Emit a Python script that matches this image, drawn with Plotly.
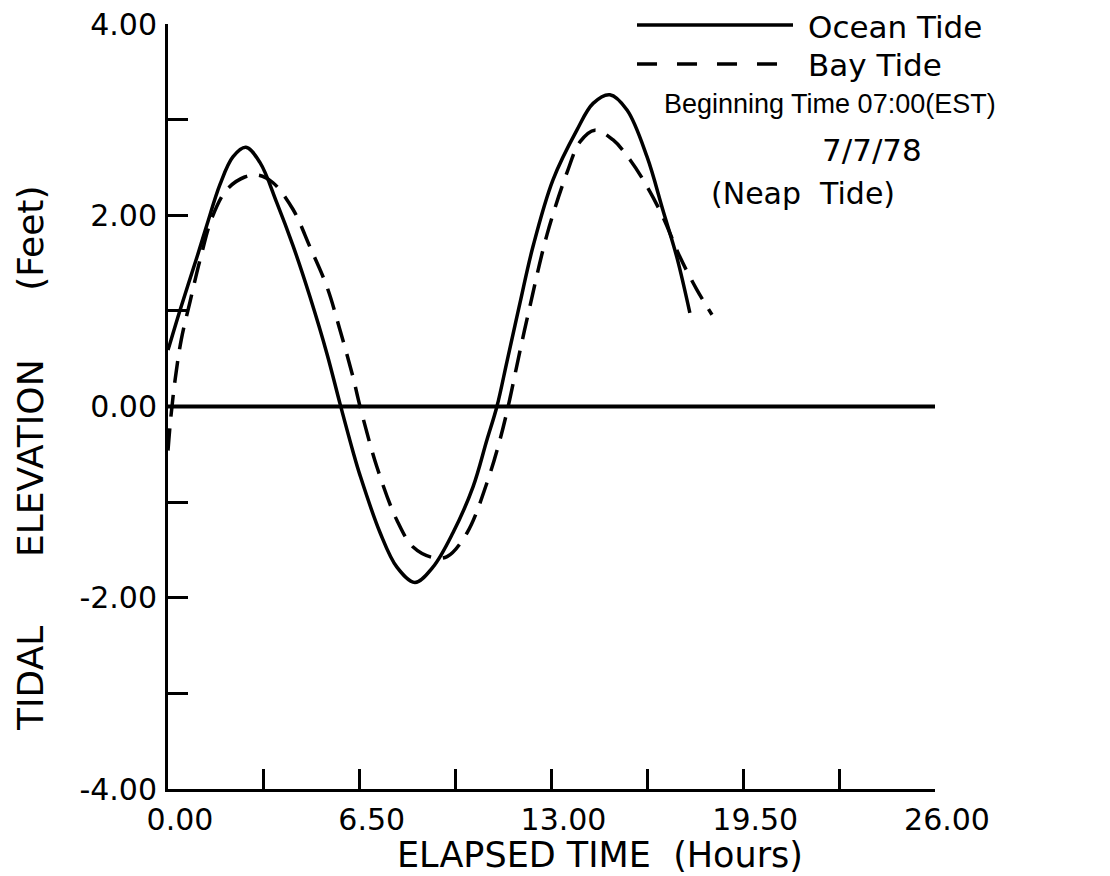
import plotly.graph_objects as go

# ---- data ----
ocean_hours = [0.0, 0.41, 0.98, 1.32, 1.76, 2.20, 2.64, 3.12, 3.69, 4.24, 4.81, 5.39, 5.83, 6.27,
               6.51, 7.19, 7.76, 8.37, 8.98, 9.66, 10.34, 10.81, 11.15, 11.49, 11.93, 12.37,
               13.05, 13.86, 14.41, 14.98, 15.56, 16.24, 16.78, 17.25, 17.69]
ocean_ft = [0.59, 1.01, 1.56, 1.90, 2.32, 2.61, 2.71, 2.55, 2.13, 1.68, 1.15, 0.55, 0.03, -0.47,
            -0.72, -1.32, -1.68, -1.84, -1.68, -1.32, -0.84, -0.35, 0.0, 0.47, 1.08, 1.67,
            2.37, 2.89, 3.17, 3.26, 3.10, 2.61, 2.05, 1.56, 0.98]

bay_hours = [0.0, 0.10, 0.25, 0.45, 0.75, 1.10, 1.50, 2.00, 2.60, 3.05, 3.56, 4.24,
             4.81, 5.39, 5.83, 6.27, 6.51, 7.08, 7.76, 8.31, 8.98, 9.46, 10.14, 10.81, 11.25,
             11.53, 11.93, 12.27, 12.85, 13.53, 13.97, 14.47, 15.08, 15.66, 16.24, 16.78,
             17.36, 17.93, 18.44]
bay_ft = [-0.46, -0.10, 0.30, 0.70, 1.10, 1.55, 1.98, 2.27, 2.40, 2.42, 2.34, 2.06,
          1.67, 1.25, 0.80, 0.31, 0.0, -0.63, -1.19, -1.47, -1.58, -1.57, -1.32, -0.80, -0.35,
          0.0, 0.58, 1.05, 1.80, 2.45, 2.77, 2.89, 2.79, 2.58, 2.30, 1.98, 1.56, 1.22, 0.96]

x_tickvals = [0, 3.25, 6.5, 9.75, 13, 16.25, 19.5, 22.75, 26]
x_ticktext = ["0.00", "", "6.50", "", "13.00", "", "19.50", "", "26.00"]
y_tickvals = [-4, -3, -2, -1, 0, 1, 2, 3, 4]
y_ticktext = ["-4.00", "", "-2.00", "", "0.00", "", "2.00", "", "4.00"]

zero_line_end = 27.0

# ---- layout geometry (pixels, in reference-screenshot coordinates) ----
OFF = 8                      # page body margin added by the browser
W, H = 1110 - OFF, 876 - OFF
L, T = 168 - OFF, 24 - OFF
PW, PH = 767, 765
R = W - L - PW
B = H - T - PH


def px(xp):
    return (xp - OFF - L) / PW


def py(yp):
    return (T + PH - (yp - OFF)) / PH


FONT = "DejaVu Sans"
INK = "black"
SP = "\u00a0"

fig = go.Figure()

fig.add_trace(go.Scatter(x=ocean_hours, y=ocean_ft, mode="lines", name="Ocean Tide",
                         line=dict(color=INK, width=3.5, shape="spline", smoothing=1.0),
                         showlegend=False))
fig.add_trace(go.Scatter(x=bay_hours, y=bay_ft, mode="lines", name="Bay Tide",
                         line=dict(color=INK, width=3.5, dash="22px,12px", shape="spline", smoothing=1.0),
                         showlegend=False))

shapes = [
    # zero line extending past the axis end
    dict(type="line", xref="x", yref="y", x0=0, x1=zero_line_end, y0=0, y1=0,
         line=dict(color=INK, width=4)),
    # legend samples
    dict(type="line", xref="paper", yref="paper", x0=px(637), x1=px(793), y0=py(25), y1=py(25),
         line=dict(color=INK, width=3.5)),
    dict(type="line", xref="paper", yref="paper", x0=px(637), x1=px(793), y0=py(64), y1=py(64),
         line=dict(color=INK, width=3.5, dash="20px,20px")),
]

annotations = [
    dict(text="Ocean Tide", x=px(806), y=py(27), xanchor="left", yanchor="middle",
         font=dict(family=FONT, size=31, color=INK)),
    dict(text="Bay Tide", x=px(806), y=py(65), xanchor="left", yanchor="middle",
         font=dict(family=FONT, size=31, color=INK)),
    dict(text="Beginning Time 07:00(EST)", x=px(662), y=py(104), xanchor="left", yanchor="middle",
         font=dict(family="Liberation Sans", size=27, color=INK)),
    dict(text="7/7/78", x=px(872), y=py(150), xanchor="center", yanchor="middle",
         font=dict(family=FONT, size=31, color=INK)),
    dict(text="(Neap" + SP * 2 + "Tide)", x=px(803), y=py(193), xanchor="center", yanchor="middle",
         font=dict(family=FONT, size=30, color=INK)),
    dict(text="ELAPSED TIME" + SP * 2 + "(Hours)", x=px(600), y=py(855), xanchor="center", yanchor="middle",
         font=dict(family=FONT, size=35, color=INK)),
    dict(text="TIDAL" + SP * 6 + "ELEVATION" + SP * 6 + "(Feet)",
         x=px(30), y=py(458), xanchor="center", yanchor="middle", textangle=-90,
         font=dict(family=FONT, size=36, color=INK)),
]
for a in annotations:
    a.setdefault("xref", "paper")
    a.setdefault("yref", "paper")
    a["showarrow"] = False

fig.update_layout(
    width=W, height=H,
    margin=dict(l=L, r=R, t=T, b=B, pad=0, autoexpand=False),
    paper_bgcolor="white", plot_bgcolor="white",
    shapes=shapes, annotations=annotations,
    showlegend=False,
    font=dict(family=FONT, color=INK),
)

fig.update_xaxes(range=[0, 26], showgrid=False, zeroline=False, automargin=False,
                 showline=True, linecolor=INK, linewidth=3,
                 ticks="inside", ticklen=20, tickwidth=3, tickcolor=INK,
                 tickvals=x_tickvals, ticktext=x_ticktext,
                 tickfont=dict(family=FONT, size=30, color=INK),
                 ticklabelshift=12, ticklabelstandoff=2, ticklabeloverflow="allow")
fig.update_yaxes(range=[-4, 4], showgrid=False, zeroline=False, automargin=False,
                 showline=True, linecolor=INK, linewidth=3,
                 ticks="inside", ticklen=20, tickwidth=3, tickcolor=INK,
                 tickvals=y_tickvals, ticktext=y_ticktext,
                 tickfont=dict(family=FONT, size=30, color=INK),
                 ticklabelstandoff=2, ticklabeloverflow="allow")

fig.write_html("out.html")
